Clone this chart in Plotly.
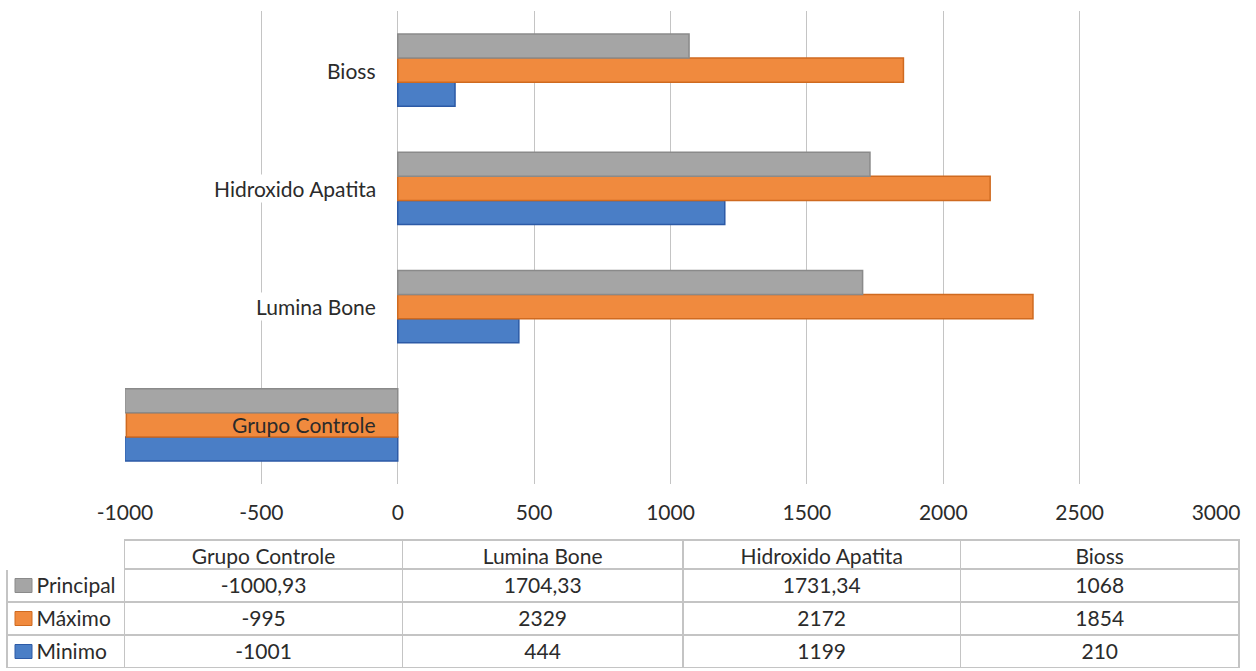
import plotly.graph_objects as go

categories = ["Grupo Controle", "Lumina Bone", "Hidroxido Apatita", "Bioss"]
principal = [-1000.93, 1704.33, 1731.34, 1068]
maximo = [-995, 2329, 2172, 1854]
minimo = [-1001, 444, 1199, 210]
series_names = ["Principal", "Máximo", "Minimo"]
table_text_principal = ["-1000,93", "1704,33", "1731,34", "1068"]
table_text_maximo = ["-995", "2329", "2172", "1854"]
table_text_minimo = ["-1001", "444", "1199", "210"]
x_ticks = [-1000, -500, 0, 500, 1000, 1500, 2000, 2500, 3000]

FONT = "Lato"
FS = 21
TXT = "#2b2b2b"
GRID = "#c4c4c4"
fills = {"Principal": "#a5a5a5", "Máximo": "#f08a3e", "Minimo": "#4a7ec6"}
edges = {"Principal": "#8a8a8a", "Máximo": "#cf6a20", "Minimo": "#2c5aa6"}

W, H = 1256, 671
fig = go.Figure()

for name, vals in [("Minimo", minimo), ("Máximo", maximo), ("Principal", principal)]:
    fig.add_trace(go.Bar(
        y=categories, x=vals, orientation="h", name=name,
        marker=dict(color=fills[name], line=dict(color=edges[name], width=1.5)),
        showlegend=False, hoverinfo="x+name",
    ))

# category labels next to the zero line
for c in categories:
    fig.add_annotation(
        x=0, y=c, xref="x", yref="y", text=c, showarrow=False,
        xanchor="right", xshift=-20,
        font=dict(family=FONT, size=FS, color=TXT),
        bgcolor="rgba(0,0,0,0)" if c == "Grupo Controle" else "white",
    )

# data table under the chart
TABLE_TOP, HEADER_H, ROW_H = 540, 29, 33
NB = "\u00a0"
fig.add_trace(go.Table(
    domain=dict(x=[7 / W, 1239 / W], y=[1 - (TABLE_TOP + HEADER_H + 3 * ROW_H) / H, 1 - TABLE_TOP / H]),
    columnwidth=[118, 278, 281, 278, 279],
    header=dict(
        values=[""] + categories,
        height=HEADER_H,
        align="center",
        fill=dict(color="white"),
        line=dict(color=["white", GRID, GRID, GRID, GRID], width=1.3),
        font=dict(family=FONT, size=FS, color=TXT),
    ),
    cells=dict(
        values=[[NB * 4 + n for n in series_names]] + [
            [table_text_principal[i], table_text_maximo[i], table_text_minimo[i]]
            for i in range(len(categories))
        ],
        height=ROW_H,
        align=["left", "center", "center", "center", "center"],
        fill=dict(color="white"),
        line=dict(color=GRID, width=1.3),
        font=dict(family=FONT, size=FS, color=TXT),
    ),
))

# legend keys in the table's first column
for i, n in enumerate(series_names):
    yc = TABLE_TOP + HEADER_H + ROW_H * i + ROW_H / 2
    fig.add_shape(
        type="rect", xref="paper", yref="paper",
        x0=15 / W, x1=32 / W, y0=1 - (yc + 7) / H, y1=1 - (yc - 7) / H,
        fillcolor=fills[n], line=dict(color=edges[n], width=1),
    )

fig.update_layout(
    width=W, height=H,
    margin=dict(l=0, r=0, t=0, b=0),
    paper_bgcolor="white", plot_bgcolor="white",
    barmode="group", bargap=0.39, bargroupgap=0,
    xaxis=dict(
        domain=[125 / W, 1216 / W], range=[-1000, 3000],
        tickvals=x_ticks, ticktext=[str(v) for v in x_ticks],
        showgrid=True, gridcolor=GRID, gridwidth=1.3,
        zeroline=False, showline=False, ticks="",
        ticklabelstandoff=14, automargin=False,
        tickfont=dict(family=FONT, size=FS, color=TXT),
    ),
    yaxis=dict(
        domain=[1 - 484 / H, 1 - 11 / H], range=[-0.5, 3.5],
        showticklabels=False, showgrid=False, zeroline=False, showline=False,
        type="category", automargin=False,
    ),
    font=dict(family=FONT),
)

fig.write_html("out.html")
